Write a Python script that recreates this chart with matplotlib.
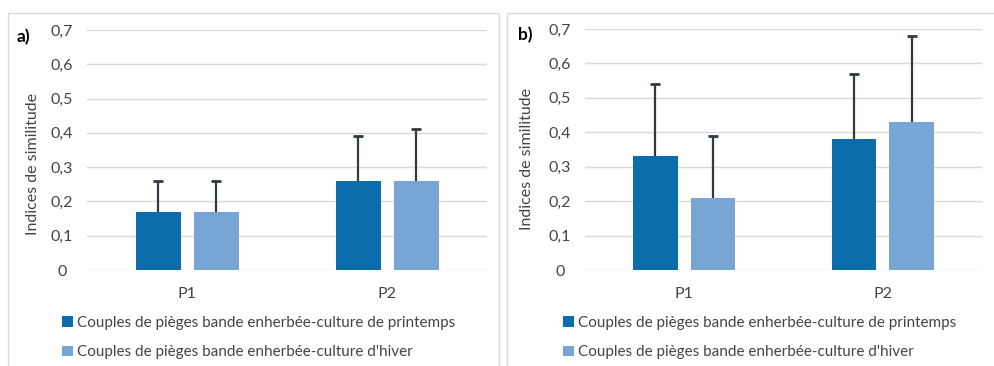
import matplotlib
matplotlib.use("Agg")
import matplotlib.pyplot as plt
from matplotlib.patches import Rectangle

plt.rcParams['font.family'] = ['Lato', 'DejaVu Sans']

categories = ['P1', 'P2']
series_names = ["Couples de pièges bande enherbée-culture de printemps",
                "Couples de pièges bande enherbée-culture d'hiver"]

# panel a
a_spring = [0.17, 0.26]
a_winter = [0.17, 0.26]
a_spring_err = [0.09, 0.13]
a_winter_err = [0.09, 0.15]

# panel b
b_spring = [0.33, 0.38]
b_winter = [0.21, 0.43]
b_spring_err = [0.21, 0.19]
b_winter_err = [0.18, 0.25]

yticks = [0, 0.1, 0.2, 0.3, 0.4, 0.5, 0.6, 0.7]
ytick_labels = ['0', '0,1', '0,2', '0,3', '0,4', '0,5', '0,6', '0,7']

dark = '#0B6DAB'
light = '#77A6D5'
text_col = '#444444'
err_col = '#2E3B40'

W, H = 995, 366
fig = plt.figure(figsize=(W / 100, H / 100), dpi=100)


def px(x0, y0, x1, y1):
    return [x0 / W, 1 - y1 / H, (x1 - x0) / W, (y1 - y0) / H]


def panel(frame, box, label, label_xy, ylab_xy, leg_xy, spring, winter, s_err, w_err):
    fig.patches.append(Rectangle((frame[0] / W, 1 - frame[3] / H),
                                 (frame[2] - frame[0]) / W, (frame[3] - frame[1]) / H,
                                 transform=fig.transFigure, fill=False,
                                 edgecolor='#D9D9D9', linewidth=1.0))
    ax = fig.add_axes(px(*box))
    x = range(len(categories))
    w = 0.225
    off = 0.145
    xs1 = [i - off for i in x]
    xs2 = [i + off for i in x]
    b1 = ax.bar(xs1, spring, w, color=dark, zorder=2)
    b2 = ax.bar(xs2, winter, w, color=light, zorder=2)
    # upper-only error bars
    for xs, vals, errs in ((xs1, spring, s_err), (xs2, winter, w_err)):
        tops = [v + e for v, e in zip(vals, errs)]
        ax.vlines(xs, vals, tops, color=err_col, linewidth=1.6, zorder=3)
        ax.plot(xs, tops, linestyle='none', marker='_', markersize=7,
                markeredgewidth=2.0, color=err_col, zorder=3)
    ax.set_xlim(-0.5, 1.5)
    ax.set_ylim(0, 0.7)
    ax.set_yticks(yticks)
    ax.set_yticklabels(ytick_labels)
    ax.set_xticks(list(x))
    ax.set_xticklabels(categories)
    ax.grid(axis='y', color='#D9D9D9', linewidth=1.0, zorder=0)
    for s in ax.spines.values():
        s.set_visible(False)
    ax.tick_params(length=0, colors=text_col, labelsize=11.5)
    ax.tick_params(axis='y', pad=18)
    ax.tick_params(axis='x', pad=12)
    for t in ax.get_yticklabels():
        t.set_horizontalalignment('center')
    fig.text(ylab_xy[0] / W, 1 - ylab_xy[1] / H, 'Indices de similitude', rotation=90,
             ha='center', va='center', color=text_col, fontsize=11.5)
    fig.text(label_xy[0] / W, 1 - label_xy[1] / H, label, ha='left', va='center',
             color='black', fontsize=12.5, fontweight='bold')
    fig.legend([b1, b2], series_names, loc='upper left',
               bbox_to_anchor=(leg_xy[0] / W, 1 - leg_xy[1] / H),
               frameon=False, fontsize=11, labelcolor=text_col,
               handlelength=0.7, handleheight=0.7, handletextpad=0.25,
               labelspacing=1.0, borderpad=0, borderaxespad=0)


panel((8, 13, 499, 372), (87, 30, 487, 270), 'a)', (17, 37), (33, 164), (62, 316),
      a_spring, a_winter, a_spring_err, a_winter_err)
panel((507, 13, 1000, 372), (585, 29, 982, 270), 'b)', (518, 35), (527, 159), (563, 316),
      b_spring, b_winter, b_spring_err, b_winter_err)

fig.savefig('out.png', dpi=100, facecolor='white')
